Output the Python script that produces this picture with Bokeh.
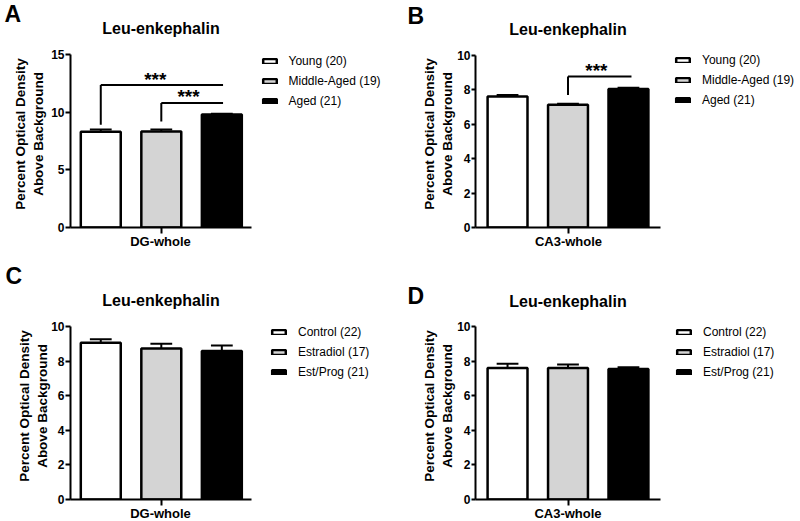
from bokeh.plotting import figure
from bokeh.models import ColumnDataSource, FixedTicker, Legend, LegendItem, Range1d
from bokeh.layouts import column, row
from bokeh.embed import file_html
from bokeh.resources import INLINE
from bokeh.core.properties import value

FONT = "Liberation Sans"

# ---------------- data ----------------
age_groups = ["Young (20)", "Middle-Aged (19)", "Aged (21)"]
hormone_groups = ["Control (22)", "Estradiol (17)", "Est/Prog (21)"]
bar_colors = ["#ffffff", "#d4d4d4", "#000000"]
x_pos = [0, 1, 2]

a_mean = [8.3, 8.32, 9.8]
a_sem = [0.2, 0.18, 0.06]
b_mean = [7.62, 7.14, 8.05]
b_sem = [0.08, 0.05, 0.07]
c_mean = [9.06, 8.73, 8.58]
c_sem = [0.2, 0.27, 0.32]
d_mean = [7.6, 7.6, 7.55]
d_sem = [0.25, 0.21, 0.1]

a_yticks = [0, 5, 10, 15]
bcd_yticks = [0, 2, 4, 6, 8, 10]

# significance brackets
a_sig_from = [0, 1]
a_sig_to = [2.02, 2.02]
a_sig_low = [8.9, 9.2]
a_sig_high = [12.35, 10.8]
a_sig_text = ["***", "***"]
a_star_x = [0.9, 1.45]

b_sig_from = [1]
b_sig_to = [2.05]
b_sig_low = [7.7]
b_sig_high = [8.78]
b_sig_text = ["***"]
b_star_x = [1.47]

TITLE = "Leu-enkephalin"
YLABEL = "Percent Optical Density\nAbove Background"
W = 400
BASE_FIX = 0.4  # alphabetic baseline correction, in em


def strip(height, items):
    """A text-only band: items are (x, baseline_y, text, size_px, align)."""
    s = figure(width=W, height=height, x_range=Range1d(0, W), y_range=Range1d(height, 0),
               output_backend="svg", toolbar_location=None, x_axis_type=None,
               y_axis_type=None, min_border=0, title=None)
    s.outline_line_color = None
    s.grid.visible = False
    for x, y, txt, size, align in items:
        s.text(x=[x], y=[y - BASE_FIX * size], text=[txt], text_font=value(FONT),
               text_font_size=f"{size}px", text_font_style="bold", text_color="black",
               text_align=align, text_baseline="alphabetic")
    return s


def panel(means, sems, groups, y_max, y_ticks, x_lo, x_hi,
          f_left, f_right, f_top, f_bottom, fig_h, leg_dx, leg_dy,
          ylab_standoff, tick_len, sig=None):
    ppu_x = (f_right - f_left) / (x_hi - x_lo)
    x_end = x_lo + (W - f_left) / ppu_x
    ppu_y = (f_bottom - f_top) / y_max
    y_end = y_max + f_top / ppu_y
    p = figure(width=W, height=fig_h, x_range=Range1d(x_lo, x_end), y_range=Range1d(0, y_end),
               output_backend="svg", toolbar_location=None, title=None,
               min_border_left=f_left, min_border_right=0,
               min_border_top=0, min_border_bottom=fig_h - f_bottom)
    p.outline_line_color = None
    p.xgrid.visible = False
    p.ygrid.visible = False
    p.background_fill_color = "white"
    p.border_fill_color = "white"

    # y axis
    ya = p.yaxis[0]
    ya.bounds = (0, y_max)
    ya.ticker = FixedTicker(ticks=y_ticks)
    ya.axis_label = YLABEL
    ya.axis_label_text_font = FONT
    ya.axis_label_text_font_size = "13.5px"
    ya.axis_label_text_font_style = "bold"
    ya.axis_label_text_color = "black"
    ya.axis_label_standoff = ylab_standoff
    ya.major_label_text_font = FONT
    ya.major_label_text_font_size = "12px"
    ya.major_label_text_font_style = "bold"
    ya.major_label_text_color = "black"
    ya.major_label_standoff = 1
    ya.major_tick_out = tick_len
    ya.major_tick_in = 0
    ya.minor_tick_out = 0
    ya.minor_tick_in = 0
    ya.axis_line_width = 2
    ya.major_tick_line_width = 2
    ya.axis_line_color = "black"
    ya.major_tick_line_color = "black"

    # x axis: one centre tick, no tick label (category name sits in the band below)
    xa = p.xaxis[0]
    xa.bounds = (x_lo, x_hi)
    xa.ticker = FixedTicker(ticks=[1])
    xa.major_label_overrides = {1: ""}
    xa.major_label_text_font_size = "0px"
    xa.major_label_standoff = 0
    xa.major_tick_out = 6
    xa.major_tick_in = 0
    xa.minor_tick_out = 0
    xa.minor_tick_in = 0
    xa.axis_line_width = 2
    xa.major_tick_line_width = 2
    xa.axis_line_color = "black"
    xa.major_tick_line_color = "black"

    cap = 0.18
    src = ColumnDataSource(dict(
        x=x_pos,
        top=means,
        err=[m + s for m, s in zip(means, sems)],
        cap_l=[x - cap for x in x_pos],
        cap_r=[x + cap for x in x_pos],
        color=bar_colors,
    ))
    p.segment(x0="x", y0="top", x1="x", y1="err", line_color="black", line_width=2, source=src)
    p.segment(x0="cap_l", y0="err", x1="cap_r", y1="err", line_color="black", line_width=2, source=src)
    r = p.vbar(x="x", top="top", width=0.66, fill_color="color", line_color="black",
               line_width=2.5, source=src)

    if sig is not None:
        s_from, s_to, s_low, s_high, s_text, s_x = sig
        ssrc = ColumnDataSource(dict(f=s_from, t=s_to, lo=s_low, hi=s_high, txt=s_text, sx=s_x))
        p.segment(x0="f", y0="lo", x1="f", y1="hi", line_color="black", line_width=2, source=ssrc)
        p.segment(x0="f", y0="hi", x1="t", y1="hi", line_color="black", line_width=2, source=ssrc)
        p.text(x="sx", y="hi", text="txt", source=ssrc, text_font=value(FONT),
               text_font_size="19px", text_font_style="bold", text_color="black",
               text_align="center", text_baseline="alphabetic", y_offset=-6)

    label_h = 20
    leg_top_up = f_bottom - (f_top + leg_dy - label_h / 2)
    legend = Legend(
        items=[LegendItem(label=g, renderers=[r], index=i) for i, g in enumerate(groups)],
        location=((f_right - f_left) + leg_dx, leg_top_up - 3 * label_h),
        orientation="vertical",
        glyph_width=17, glyph_height=6,
        label_height=label_h, label_standoff=11,
        spacing=0, padding=0, margin=0,
        border_line_color=None, background_fill_alpha=0,
        label_text_font=FONT, label_text_font_size="12px", label_text_color="black",
    )
    p.add_layout(legend)
    return p


S1, H1, F1 = 40, 194, 28
S2, H2, F2 = 50, 194, 15

hA = strip(S1, [(4, 23, "A", 23, "left"), (160.5, 34, TITLE, 16, "center")])
hB = strip(S1, [(7, 25, "B", 23, "left"), (167.5, 35.5, TITLE, 16, "center")])
hC = strip(S2, [(5, 23, "C", 23, "left"), (160.5, 44, TITLE, 16, "center")])
hD = strip(S2, [(7, 43, "D", 23, "left"), (167.5, 45, TITLE, 16, "center")])

pA = panel(a_mean, a_sem, age_groups, 15, a_yticks, -0.5, 2.49,
           70, 251, 14, 187, H1, 9.5, 7, 2, 5,
           sig=(a_sig_from, a_sig_to, a_sig_low, a_sig_high, a_sig_text, a_star_x))
pB = panel(b_mean, b_sem, age_groups, 10, bcd_yticks, -0.53, 2.53,
           75, 260, 15, 188, H1, 14, 6, -1, 4,
           sig=(b_sig_from, b_sig_to, b_sig_low, b_sig_high, b_sig_text, b_star_x))
pC = panel(c_mean, c_sem, hormone_groups, 10, bcd_yticks, -0.5, 2.49,
           70, 251, 14, 187, H2, 19, 5.5, -2, 5)
pD = panel(d_mean, d_sem, hormone_groups, 10, bcd_yticks, -0.53, 2.53,
           75, 260, 14, 187, H2, 15, 5.5, -1, 4)

fA = strip(F1, [(160, 12, "DG-whole", 13, "center")])
fB = strip(F1, [(168, 12, "CA3-whole", 13, "center")])
fC = strip(F2, [(160, 12, "DG-whole", 13, "center")])
fD = strip(F2, [(167.5, 12, "CA3-whole", 13, "center")])

layout = column(row(hA, hB), row(pA, pB), row(fA, fB),
                row(hC, hD), row(pC, pD), row(fC, fD))

open("out.html", "w").write(file_html(layout, INLINE))
